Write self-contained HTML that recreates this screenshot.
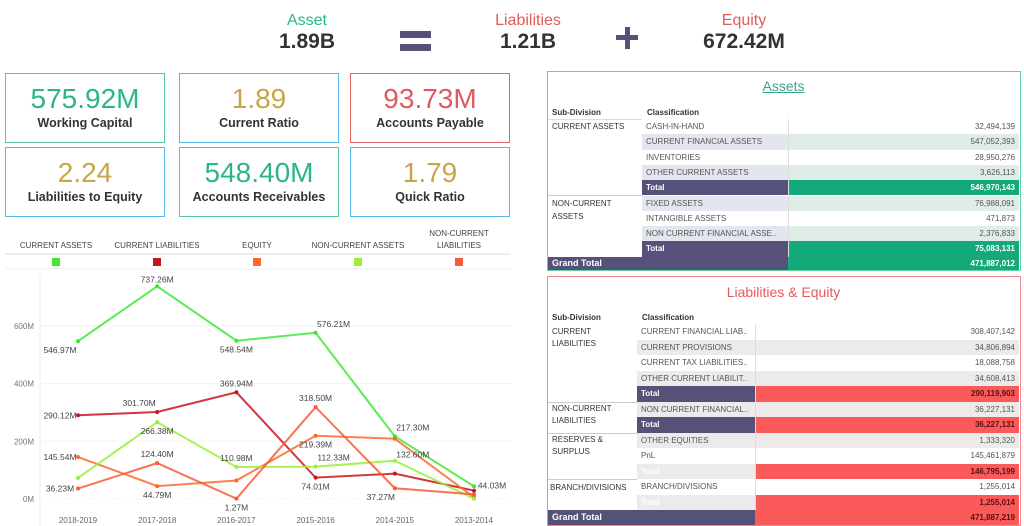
<!DOCTYPE html>
<html><head><meta charset="utf-8"><style>
*{box-sizing:border-box;margin:0;padding:0}
body{width:1024px;height:526px;overflow:hidden;background:#fff;font-family:"Liberation Sans",sans-serif;position:relative}
.a{position:absolute}
.hdr{text-align:center;width:160px}
.hl{font-size:16px}
.hv{font-size:21px;font-weight:bold;color:#333}
.kpi{position:absolute;width:160px;height:70px;border:1.5px solid;text-align:center}
.kv{font-size:28px;margin-top:10px;line-height:30px}
.kl{font-size:12.5px;font-weight:bold;color:#333;margin-top:2px}
.t{font-size:8px;color:#444;white-space:nowrap;overflow:hidden;line-height:15px}
</style></head><body>
<div class="a hdr" style="left:227px;top:12px"><div class="hl" style="color:#26b88d">Asset</div><div class="hv">1.89B</div></div>
<div class="a" style="left:400px;top:31px;width:31px;height:7px;background:#555178"></div>
<div class="a" style="left:400px;top:44px;width:31px;height:7px;background:#555178"></div>
<div class="a hdr" style="left:448px;top:12px"><div class="hl" style="color:#e35a5a">Liabilities</div><div class="hv">1.21B</div></div>
<div class="a" style="left:616px;top:35px;width:22px;height:5px;background:#555178"></div>
<div class="a" style="left:624.5px;top:27px;width:5px;height:22px;background:#555178"></div>
<div class="a hdr" style="left:664px;top:12px"><div class="hl" style="color:#e35a5a">Equity</div><div class="hv">672.42M</div></div>

<div class="kpi" style="left:5px;top:73px;border-color:#5cc6a0"><div class="kv" style="color:#2bb58a">575.92M</div><div class="kl">Working Capital</div></div>
<div class="kpi" style="left:179px;top:73px;border-color:#59b9ea"><div class="kv" style="color:#c9a548">1.89</div><div class="kl">Current Ratio</div></div>
<div class="kpi" style="left:350px;top:73px;border-color:#e26666"><div class="kv" style="color:#e05a5e">93.73M</div><div class="kl">Accounts Payable</div></div>
<div class="kpi" style="left:5px;top:147px;border-color:#59b9ea"><div class="kv" style="color:#c9a548">2.24</div><div class="kl">Liabilities to Equity</div></div>
<div class="kpi" style="left:179px;top:147px;border-color:#5cc6a0"><div class="kv" style="color:#2bb58a">548.40M</div><div class="kl">Accounts Receivables</div></div>
<div class="kpi" style="left:350px;top:147px;border-color:#59b9ea"><div class="kv" style="color:#c9a548">1.79</div><div class="kl">Quick Ratio</div></div>

<svg class="a" id="chart" style="left:0;top:225px" width="530" height="301"></svg>

<div class="a" id="at" style="left:547px;top:71px;width:474px;height:200px;border:1.5px solid #62d1a2"></div>
<div class="a" id="lt" style="left:547px;top:276px;width:474px;height:250px;border:1.5px solid #f08a8a"></div>

<script>
const years=["2018-2019","2017-2018","2016-2017","2015-2016","2014-2015","2013-2014"];
const currentAssets=[546.97,737.26,548.54,576.21,217.30,44.03];
const currentLiabilities=[290.12,301.70,369.94,74.01,88,29];
const equity=[145.54,44.79,64,219.39,209,6];
const nonCurrentAssets=[73,266.38,110.98,112.33,132.60,1];
const nonCurrentLiabilities=[36.23,124.40,1.27,318.50,37.27,16];
const yTicks=[0,200,400,600];
const legendNames=["CURRENT ASSETS","CURRENT LIABILITIES","EQUITY","NON-CURRENT ASSETS","NON-CURRENT LIABILITIES"];
const NS="http://www.w3.org/2000/svg";
const svg=document.getElementById('chart');
function mk(t,a,p){const e=document.createElementNS(NS,t);for(const k in a)e.setAttribute(k,a[k]);(p||svg).appendChild(e);return e;}
const xS=i=>78+i*79.2;
const yS=v=>274-v*0.2885;
// legend
mk('line',{x1:5,x2:510,y1:29,y2:29,stroke:'#ddd'});
mk('line',{x1:5,x2:510,y1:44,y2:44,stroke:'#eee'});
const legX=[56,157,257,358,459];
const colors=["#3de832","#c8141c","#fb6a2c","#99f03a","#f8583a"];
legendNames.forEach((n,i)=>{
  const g=mk('g',{});
  
  
  if(i===4){const t1=mk('text',{x:legX[i],y:11,'text-anchor':'middle','font-size':8,fill:'#444'},g);t1.textContent="NON-CURRENT";const t2=mk('text',{x:legX[i],y:23,'text-anchor':'middle','font-size':8,fill:'#444'},g);t2.textContent="LIABILITIES";}
  else{const t=mk('text',{x:legX[i],y:23,'text-anchor':'middle','font-size':8,fill:'#444'},g);t.textContent=n;}
  mk('rect',{x:legX[i]-4,y:33,width:8,height:8,fill:colors[i]},g);
});
// axes
mk('line',{x1:40,x2:40,y1:50,y2:510,stroke:'#eee'});
mk('line',{x1:40,x2:512,y1:511,y2:511,stroke:'#eee'});
yTicks.forEach(v=>{
  const ln=mk('line',{x1:40,x2:512,y1:yS(v),y2:yS(v),stroke:'#f3f3f3','stroke-dasharray':v===0?'3,3':''});
  
  
  const t=mk('text',{x:34,y:yS(v)+3,'text-anchor':'end','font-size':8,fill:'#777'});
  
  
  t.textContent=v+"M";
});
years.forEach((y,i)=>{
  const t=mk('text',{x:xS(i),y:298,'text-anchor':'middle','font-size':8,fill:'#666'});
  
  
  t.textContent=y;
});
// label offsets [dx,dy] per point; null = no label
const series=[
 {name:'current-assets',d:currentAssets,c:colors[0],lab:[[-18,12],[0,-4],[0,12],[18,-6],[18,-6],[18,2]]},
 {name:'current-liabilities',d:currentLiabilities,c:colors[1],lab:[[-18,3],[-18,-6],[0,-6],[0,12],null,null]},
 {name:'equity',d:equity,c:colors[2],lab:[[-18,3],[0,12],null,[0,12],null,null]},
 {name:'non-current-assets',d:nonCurrentAssets,c:colors[3],lab:[null,[0,12],[0,-6],[18,-6],[18,-3],null]},
 {name:'non-current-liabilities',d:nonCurrentLiabilities,c:colors[4],lab:[[-18,3],[0,-6],[0,12],[0,-6],[-14,12],null]}
];
series.forEach(s=>{
  const p=mk('polyline',{points:s.d.map((v,i)=>xS(i)+","+yS(v)).join(" "),fill:'none',stroke:s.c,'stroke-width':2,'stroke-opacity':0.85});
  
  
  s.d.forEach((v,i)=>{
    const c=mk('circle',{cx:xS(i),cy:yS(v),r:2,fill:s.c});
    
    
    if(s.lab[i]){const t=mk('text',{x:xS(i)+s.lab[i][0],y:yS(v)+s.lab[i][1],'text-anchor':'middle','font-size':8.5,fill:'#444'});
      
      
      t.textContent=v.toFixed(2)+"M";}
  });
});

// tables
function cell(p,x,y,w,h,txt,bg,col,opt){
  const d=document.createElement('div');d.className='a t';
  
  
  d.style.cssText+=`left:${x}px;top:${y}px;width:${w}px;height:${h}px;background:${bg||'transparent'};color:${col||'#444'};line-height:${h}px;padding:0 4px;`+(opt||'');
  d.textContent=txt;p.appendChild(d);return d;
}
const at=document.getElementById('at');
const t1=document.createElement('div');t1.className='a';


t1.style.cssText='left:0;width:471px;top:6px;text-align:center;font-size:14px;color:#3aa58a;text-decoration:underline';t1.textContent='Assets';at.appendChild(t1);
cell(at,0,34,95,14,'Sub-Division',null,'#333','font-weight:bold');
cell(at,95,34,140,14,'Classification',null,'#333','font-weight:bold');
const aRows=[["CASH-IN-HAND","32,494,139"],["CURRENT FINANCIAL ASSETS","547,052,393"],["INVENTORIES","28,950,276"],["OTHER CURRENT ASSETS","3,626,113"],["Total","546,970,143"],["FIXED ASSETS","76,988,091"],["INTANGIBLE ASSETS","471,873"],["NON CURRENT FINANCIAL ASSE..","2,376,833"],["Total","75,083,131"]];
let y=47;const rh=15.3;
at.appendChild(Object.assign(document.createElement('div'),{className:'a',style:'left:0;top:47px;width:471px;height:1px;background:#ddd'}));
aRows.forEach((r,i)=>{
  const tot=r[0]==="Total";const alt=!tot&&(i%2===1);
  cell(at,94,y,146,rh,r[0],tot?'#555178':(alt?'#e3e6ef':'#fff'),tot?'#fff':'#555',tot?'font-weight:bold':'');
  cell(at,240,y,231,rh,r[1],tot?'#14a97a':(alt?'#dfece8':'#fff'),tot?'#fff':'#555','text-align:right;border-left:1px solid #ddd;'+(tot?'font-weight:bold':''));
  y+=rh;
});
cell(at,0,48,95,14,'CURRENT ASSETS',null,'#333');
cell(at,0,124,95,28,'NON-CURRENT ASSETS',null,'#333','white-space:normal;line-height:13px;padding-top:1px');
at.appendChild(Object.assign(document.createElement('div'),{className:'a',style:'left:0;top:123px;width:94px;height:1px;background:#ccc'}));
cell(at,0,184.7,240,13.8,'Grand Total','#555178','#fff','font-weight:bold;font-size:9px');
cell(at,240,184.7,231,13.8,'471,887,012','#14a97a','#fff','text-align:right;font-weight:bold');

const lt=document.getElementById('lt');
const t2=document.createElement('div');t2.className='a';


t2.style.cssText='left:0;width:471px;top:7px;text-align:center;font-size:14px;color:#e35a5e';t2.textContent='Liabilities & Equity';lt.appendChild(t2);
cell(lt,0,34,90,14,'Sub-Division',null,'#333','font-weight:bold');
cell(lt,90,34,140,14,'Classification',null,'#333','font-weight:bold');
const lRows=[["CURRENT FINANCIAL LIAB..","308,407,142",0],["CURRENT PROVISIONS","34,806,894",1],["CURRENT TAX LIABILITIES..","18,088,758",0],["OTHER CURRENT LIABILIT..","34,608,413",1],["Total","290,119,903",2],["NON CURRENT FINANCIAL..","36,227,131",1],["Total","36,227,131",2],["OTHER EQUITIES","1,333,320",1],["PnL","145,461,879",0],["Total","146,795,199",3],["BRANCH/DIVISIONS","1,255,014",0],["Total","1,255,014",3]];
y=47;const lh=15.5;
lRows.forEach(r=>{
  const k=r[2];
  const bg=k===2?'#555178':k===3?'#ebebeb':k===1?'#ecebea':'#fff';
  cell(lt,89,y,118,lh,r[0],bg,k>=2?'#fff':'#555',k>=2?'font-weight:bold':'');
  cell(lt,207,y,264,lh,r[1],k>=2?'#fb5a5a':(k===1?'#ecebea':'#fff'),k>=2?'#5a1010':'#555','text-align:right;border-left:1px solid #ddd;'+(k>=2?'font-weight:bold':''));
  y+=lh;
});
cell(lt,0,48,89,28,'CURRENT LIABILITIES',null,'#333','white-space:normal;line-height:12px;padding-top:1px');
cell(lt,0,125,89,28,'NON-CURRENT LIABILITIES',null,'#333','white-space:normal;line-height:12px;padding-top:1px');
cell(lt,0,156,89,28,'RESERVES & SURPLUS',null,'#333','white-space:normal;line-height:12px;padding-top:1px');
cell(lt,0,203,89,15,'BRANCH/DIVISIONS',null,'#333','padding:0 2px');
[124.5,155.5,202].forEach(v=>lt.appendChild(Object.assign(document.createElement('div'),{className:'a',style:`left:0;top:${v}px;width:89px;height:1px;background:#ccc`})));
cell(lt,0,233,207,15,'Grand Total','#555178','#fff','font-weight:bold;font-size:9px');
cell(lt,207,233,264,15,'471,887,219','#fb5a5a','#5a1010','text-align:right;font-weight:bold');
</script>
</body></html>
